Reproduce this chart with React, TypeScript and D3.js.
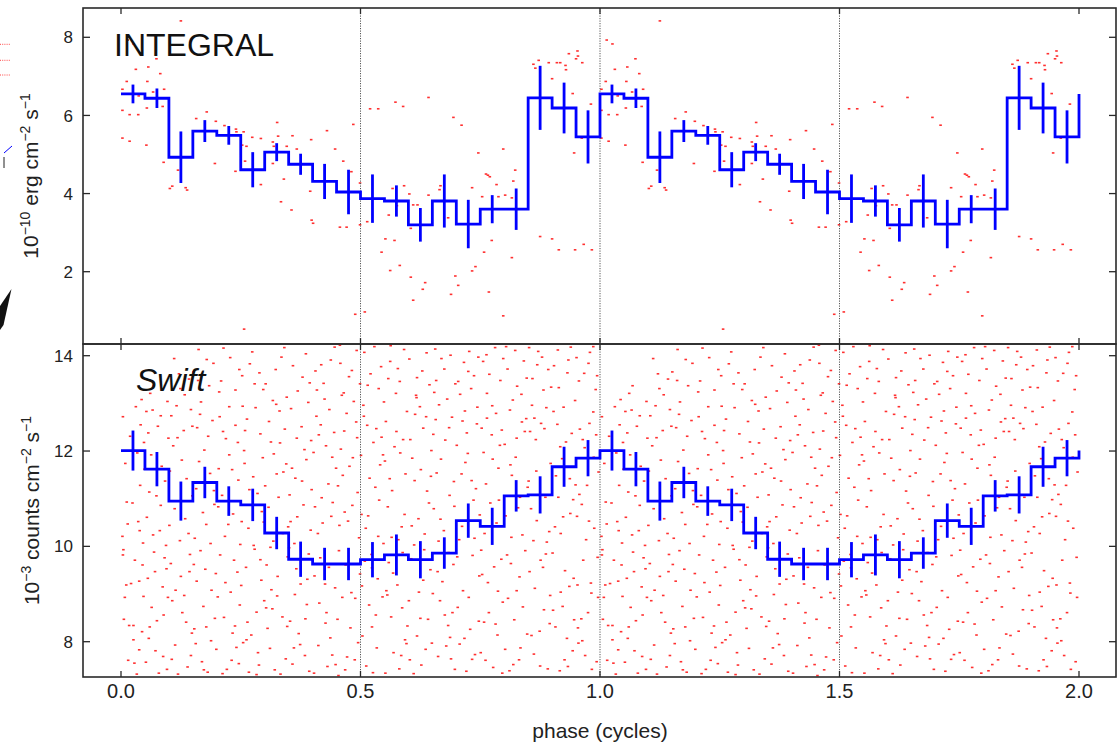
import React from "react";
import * as d3 from "d3";

// Folded light curves: 20 phase bins per cycle, plotted over two cycles.
const cycles = [0, 1];
const binStart = [0, 0.05, 0.1, 0.15, 0.2, 0.25, 0.3, 0.35, 0.4, 0.45, 0.5, 0.55, 0.6, 0.65, 0.7, 0.75, 0.8, 0.85, 0.9, 0.95];
const binWidth = 0.05;

// INTEGRAL flux, 1e-10 erg cm^-2 s^-1
const integralFlux = [6.55, 6.44, 4.93, 5.6, 5.49, 4.61, 5.06, 4.75, 4.31, 4.04, 3.87, 3.81, 3.2, 3.81, 3.22, 3.6, 3.6, 6.45, 6.19, 5.45];
const integralErr = [0.24, 0.25, 0.66, 0.28, 0.24, 0.45, 0.23, 0.27, 0.45, 0.57, 0.62, 0.4, 0.43, 0.68, 0.62, 0.36, 0.53, 0.82, 0.65, 0.68];

// Swift count rate, 1e-3 counts cm^-2 s^-1
const swiftRate = [12.01, 11.62, 10.95, 11.34, 10.95, 10.87, 10.28, 9.73, 9.63, 9.63, 9.72, 9.82, 9.72, 9.86, 10.54, 10.42, 11.06, 11.08, 11.67, 11.85];
const swiftErr = [0.42, 0.36, 0.41, 0.33, 0.31, 0.34, 0.34, 0.37, 0.34, 0.34, 0.37, 0.43, 0.39, 0.33, 0.36, 0.39, 0.33, 0.39, 0.42, 0.38];

// Individual folded measurements (phase within one cycle, value)
const integralPoints: [number, number][] = [
  [0.125, 8.42], [0.014, 7.93], [0.026, 7.83], [0.074, 7.45], [0.031, 7.18], [0.057, 7.24], [0.082, 7.07],
  [0.012, 6.87], [0.055, 6.87], [0.003, 6.67], [0.09, 6.67], [0.067, 6.6], [0.037, 6.5], [0.003, 6.13],
  [0.054, 6.19], [0.087, 6.23], [0.018, 6.02], [0.036, 6.02], [0.003, 5.42], [0.018, 5.34], [0.053, 5.24],
  [0.089, 4.8], [0.102, 4.13], [0.107, 4.19], [0.135, 4.15], [0.138, 4.09], [0.119, 4.6],
  [0.157, 5.92], [0.179, 6.09], [0.198, 5.85], [0.216, 5.74], [0.24, 5.65], [0.241, 5.58], [0.256, 5.58],
  [0.196, 4.77], [0.239, 4.57], [0.253, 5.24], [0.262, 5.21], [0.259, 4.83], [0.274, 5.44], [0.292, 5.41],
  [0.257, 0.53], [0.292, 4.23], [0.326, 5.82], [0.328, 5.47], [0.317, 5.32], [0.319, 5.21], [0.317, 4.77],
  [0.346, 5.21], [0.358, 5.48], [0.367, 5.14], [0.34, 4.37], [0.334, 3.79], [0.356, 3.58], [0.397, 5.38],
  [0.43, 5.61], [0.447, 5.14], [0.464, 4.83], [0.395, 4.06], [0.398, 3.32], [0.401, 3.24], [0.457, 3.14],
  [0.471, 3.14], [0.485, 5.77], [0.481, 4.56], [0.489, 0.91], [0.509, 0.97], [0.499, 4.27], [0.499, 3.2],
  [0.514, 3.28], [0.52, 6.17], [0.537, 6.17],
  [0.573, 6.34], [0.589, 6.23], [0.642, 6.46], [0.694, 5.95], [0.711, 5.75], [0.746, 5.04], [0.798, 5.14],
  [0.762, 4.5], [0.766, 4.47], [0.77, 4.43], [0.784, 4.23], [0.823, 4.6], [0.819, 4.32], [0.733, 4.15],
  [0.754, 3.92], [0.788, 3.92], [0.802, 3.96], [0.816, 3.89], [0.591, 4.2], [0.567, 4.13], [0.602, 3.99],
  [0.667, 4.2], [0.665, 4.1], [0.642, 3.96], [0.61, 3.71], [0.619, 3.71], [0.576, 3.69], [0.683, 3.38],
  [0.559, 3.45], [0.605, 3.11], [0.552, 2.84], [0.571, 2.8], [0.544, 2.5], [0.582, 2.16], [0.562, 2.03],
  [0.605, 1.86], [0.635, 1.72], [0.63, 1.55], [0.61, 1.27], [0.698, 1.89], [0.704, 1.65], [0.689, 1.42],
  [0.74, 2.13], [0.733, 2.02], [0.758, 2.5], [0.774, 2.8], [0.768, 1.48], [0.816, 2.36], [0.798, 0.87],
  [0.875, 2.9], [0.9, 2.84], [0.914, 2.56], [0.948, 2.56], [0.966, 2.7], [0.983, 2.56], [0.861, 7.31],
  [0.872, 7.41], [0.865, 7.21], [0.893, 7.35], [0.91, 7.35], [0.917, 7.35], [0.928, 7.28], [0.929, 7.17],
  [0.935, 7.58], [0.953, 7.65], [0.954, 7.52], [0.95, 7.45], [0.963, 7.35], [0.9, 6.94], [0.943, 6.56],
  [0.981, 6.29], [0.962, 5.42], [0.946, 5.04],
];

const swiftPoints: [number, number][] = [
  [0.004, 12.72], [0.019, 12.31], [0.031, 12.93], [0.043, 13.08], [0.041, 12.55], [0.012, 10.93], [0.024, 10.91],
  [0.003, 10.21], [0.005, 9.93], [0.004, 9.82], [0.036, 10.52], [0.039, 10.33], [0.04, 11.28], [0.021, 9.22],
  [0.011, 9.19], [0.038, 9.27], [0.006, 8.47], [0.017, 8.34], [0.026, 8.34], [0.026, 8.04], [0.038, 7.83],
  [0.028, 7.55], [0.047, 8.95], [0.045, 9.61], [0.049, 11.62], [0.033, 7.32], [0.009, 11.74], [0.046, 10.07],
  [0.015, 7.61], [0.034, 11.96], [0.048, 12.18],
  [0.014, 10.47], [0.029, 9.71], [0.044, 8.21], [0.008, 8.93],
  [0.061, 13.21], [0.083, 12.74], [0.058, 8.07], [0.092, 11.37], [0.069, 9.88], [0.077, 12.52], [0.054, 10.61],
  [0.096, 7.42], [0.087, 9.15], [0.063, 11.92], [0.072, 7.81], [0.081, 10.33], [0.099, 12.27], [0.056, 9.33],
  [0.089, 8.56], [0.066, 12.86], [0.094, 10.02], [0.075, 8.44], [0.059, 11.14], [0.085, 11.68], [0.071, 9.47],
  [0.097, 13.04], [0.052, 7.57], [0.079, 7.34], [0.091, 9.76], [0.064, 8.72], [0.083, 10.86], [0.068, 13.37],
  [0.098, 8.93], [0.057, 12.38],
  [0.074, 11.06], [0.053, 12.83], [0.088, 7.69], [0.067, 10.24], [0.095, 9.53], [0.06, 8.31],
  [0.121, 13.62], [0.104, 9.64], [0.137, 11.42], [0.113, 7.93], [0.146, 12.87], [0.109, 12.11], [0.128, 8.61],
  [0.141, 10.27], [0.117, 10.95], [0.133, 13.18], [0.102, 11.58], [0.148, 8.18], [0.125, 9.37], [0.139, 7.47],
  [0.111, 13.94], [0.144, 9.83], [0.107, 8.86], [0.131, 12.43], [0.119, 7.32], [0.149, 11.06], [0.134, 10.58],
  [0.105, 12.74], [0.127, 11.81], [0.142, 13.51], [0.114, 9.08], [0.136, 8.41], [0.123, 10.12], [0.146, 7.71],
  [0.101, 10.44], [0.116, 12.95],
  [0.118, 12.28], [0.143, 9.47], [0.106, 7.63], [0.132, 8.97], [0.124, 13.31], [0.149, 12.52], [0.112, 10.79],
  [0.162, 14.13], [0.178, 10.46], [0.153, 8.27], [0.191, 12.64], [0.169, 7.58], [0.184, 13.37], [0.157, 11.21],
  [0.198, 9.43], [0.174, 12.02], [0.188, 8.02], [0.151, 13.66], [0.166, 9.91], [0.195, 10.88], [0.181, 7.36],
  [0.159, 12.49], [0.172, 8.74], [0.193, 13.84], [0.154, 10.17], [0.186, 11.53], [0.167, 13.03], [0.199, 7.84],
  [0.176, 9.52], [0.163, 11.78], [0.189, 9.08], [0.156, 7.96], [0.182, 12.31], [0.171, 10.71], [0.196, 8.49],
  [0.158, 9.27], [0.179, 13.92],
  [0.165, 12.77], [0.187, 10.06], [0.152, 9.62], [0.178, 8.31], [0.194, 11.17], [0.161, 13.48], [0.173, 7.41],
  [0.209, 13.47], [0.236, 9.71], [0.221, 7.42], [0.244, 12.18], [0.203, 10.83], [0.228, 13.96], [0.215, 8.51],
  [0.249, 10.04], [0.232, 11.61], [0.206, 12.72], [0.241, 7.88], [0.218, 9.24], [0.226, 12.93], [0.247, 13.71],
  [0.211, 11.07], [0.238, 8.33], [0.202, 8.94], [0.224, 10.46], [0.245, 11.39], [0.214, 14.16], [0.231, 7.61],
  [0.207, 9.82], [0.239, 12.54], [0.219, 12.26], [0.248, 8.77], [0.226, 11.92], [0.205, 13.24], [0.234, 10.68],
  [0.212, 7.33], [0.243, 9.46],
  [0.217, 10.21], [0.239, 13.28], [0.204, 11.63], [0.229, 9.04], [0.246, 7.54], [0.213, 12.41], [0.233, 8.18],
  [0.257, 12.01], [0.283, 8.62], [0.269, 13.83], [0.294, 10.73], [0.251, 9.18], [0.276, 11.46], [0.288, 7.51],
  [0.263, 12.67], [0.297, 13.29], [0.255, 7.98], [0.279, 9.94], [0.266, 10.38], [0.291, 12.36], [0.272, 8.14],
  [0.253, 13.58], [0.285, 11.11], [0.261, 9.56], [0.299, 8.86], [0.274, 14.08], [0.258, 11.74], [0.293, 9.29],
  [0.267, 7.36], [0.281, 12.91], [0.252, 10.52], [0.289, 13.64], [0.264, 8.41], [0.296, 11.86], [0.277, 10.02],
  [0.259, 12.43], [0.286, 7.77],
  [0.268, 11.19], [0.291, 9.72], [0.254, 12.94], [0.279, 13.41], [0.262, 8.04], [0.298, 10.51], [0.283, 7.31],
  [0.306, 8.28], [0.331, 12.84], [0.318, 10.11], [0.344, 7.64], [0.302, 13.41], [0.327, 9.37], [0.339, 11.56],
  [0.313, 12.19], [0.348, 9.78], [0.321, 7.41], [0.335, 13.97], [0.308, 10.82], [0.342, 12.46], [0.316, 8.69],
  [0.329, 11.03], [0.304, 9.61], [0.346, 13.13], [0.323, 13.71], [0.311, 7.86], [0.337, 8.52], [0.319, 11.94],
  [0.349, 10.41], [0.326, 8.96], [0.309, 12.62], [0.341, 14.17], [0.314, 9.09], [0.333, 7.32], [0.301, 11.27],
  [0.345, 11.73], [0.324, 12.98],
  [0.317, 13.06], [0.338, 10.27], [0.303, 8.71], [0.325, 11.52], [0.347, 8.32], [0.312, 9.98], [0.332, 12.17],
  [0.357, 11.64], [0.384, 7.71], [0.369, 13.26], [0.392, 9.84], [0.353, 8.43], [0.377, 12.51], [0.398, 11.19],
  [0.362, 10.06], [0.386, 14.04], [0.371, 8.17], [0.355, 12.89], [0.393, 7.38], [0.366, 9.53], [0.381, 10.87],
  [0.359, 13.79], [0.397, 12.22], [0.374, 7.94], [0.351, 9.97], [0.388, 8.78], [0.364, 11.43], [0.379, 13.55],
  [0.396, 10.34], [0.358, 7.53], [0.383, 12.03], [0.368, 10.62], [0.391, 13.02], [0.352, 11.08], [0.375, 9.21],
  [0.387, 11.82], [0.363, 8.99],
  [0.367, 12.27], [0.389, 9.31], [0.354, 10.52], [0.378, 11.37], [0.394, 13.43], [0.361, 7.87], [0.385, 8.48],
  [0.412, 7.92], [0.433, 11.31], [0.406, 13.68], [0.447, 9.13], [0.421, 10.49], [0.438, 13.91], [0.402, 11.97],
  [0.427, 8.39], [0.445, 12.39], [0.416, 9.76], [0.431, 7.48], [0.408, 12.73], [0.442, 10.92], [0.423, 13.42],
  [0.414, 8.81], [0.449, 11.64], [0.428, 12.11], [0.404, 9.38], [0.437, 8.08], [0.419, 11.02], [0.446, 14.18],
  [0.411, 10.27], [0.434, 9.56], [0.403, 7.34], [0.425, 13.09], [0.441, 7.72], [0.417, 12.55], [0.439, 10.63],
  [0.409, 13.28], [0.429, 8.61],
  [0.418, 13.81], [0.441, 11.87], [0.405, 10.83], [0.426, 9.21], [0.448, 7.52], [0.413, 12.34], [0.435, 12.87],
  [0.458, 13.84], [0.481, 9.03], [0.467, 10.72], [0.493, 12.28], [0.452, 8.47], [0.476, 13.56], [0.488, 7.62],
  [0.463, 11.49], [0.497, 10.18], [0.471, 12.79], [0.455, 9.91], [0.484, 11.86], [0.468, 7.41], [0.492, 14.11],
  [0.459, 12.04], [0.479, 8.29], [0.465, 13.22], [0.499, 9.42], [0.474, 10.53], [0.453, 11.27], [0.486, 13.04],
  [0.462, 8.93], [0.495, 7.98], [0.477, 11.68], [0.457, 14.22], [0.483, 10.86], [0.469, 9.61], [0.491, 12.61],
  [0.454, 7.29], [0.499, 13.41],
  [0.466, 12.42], [0.489, 8.91], [0.456, 10.44], [0.472, 7.68], [0.494, 11.13], [0.461, 13.17], [0.482, 13.69],
  [0.506, 12.96], [0.532, 8.56], [0.519, 11.43], [0.543, 13.77], [0.503, 9.17], [0.527, 12.18], [0.548, 10.06],
  [0.512, 7.49], [0.538, 13.31], [0.523, 9.83], [0.508, 14.07], [0.541, 11.71], [0.516, 10.64], [0.534, 7.87],
  [0.501, 11.91], [0.529, 14.19], [0.546, 8.94], [0.514, 12.54], [0.536, 9.32], [0.521, 13.62], [0.504, 8.12],
  [0.544, 12.29], [0.526, 7.35], [0.511, 10.38], [0.539, 10.97], [0.518, 8.77], [0.549, 13.03], [0.531, 11.24],
  [0.507, 12.73], [0.524, 9.55],
  [0.515, 13.38], [0.537, 10.21], [0.502, 10.67], [0.524, 8.31], [0.547, 11.92], [0.509, 9.69], [0.533, 12.47],
  [0.557, 10.83], [0.582, 13.46], [0.569, 7.77], [0.594, 11.52], [0.553, 12.62], [0.577, 9.19], [0.598, 8.33],
  [0.562, 13.88], [0.586, 10.41], [0.571, 12.09], [0.556, 8.98], [0.591, 14.13], [0.566, 11.17], [0.581, 7.43],
  [0.559, 9.66], [0.597, 12.83], [0.574, 13.21], [0.551, 11.79], [0.588, 9.87], [0.564, 8.52], [0.579, 10.14],
  [0.596, 7.96], [0.558, 13.52], [0.583, 11.96], [0.568, 9.44], [0.592, 10.67], [0.552, 7.34], [0.575, 12.41],
  [0.587, 8.71], [0.563, 14.21],
  [0.565, 10.19], [0.589, 12.24], [0.554, 9.07], [0.578, 13.73], [0.593, 8.04], [0.561, 11.42], [0.585, 7.71],
  [0.606, 9.74], [0.631, 12.48], [0.618, 8.12], [0.643, 10.91], [0.602, 13.93], [0.627, 7.51], [0.648, 12.01],
  [0.613, 11.38], [0.638, 14.06], [0.622, 9.04], [0.608, 11.85], [0.641, 8.47], [0.616, 13.17], [0.634, 10.26],
  [0.601, 8.86], [0.629, 13.68], [0.646, 9.51], [0.614, 12.77], [0.636, 7.84], [0.621, 10.58], [0.604, 12.24],
  [0.644, 13.39], [0.626, 11.61], [0.611, 7.33], [0.639, 11.16], [0.618, 13.54], [0.649, 7.97], [0.631, 9.29],
  [0.607, 10.43], [0.624, 12.93],
  [0.612, 10.03], [0.637, 12.72], [0.603, 7.62], [0.625, 8.49], [0.647, 11.47], [0.617, 13.12], [0.633, 9.93],
  [0.657, 12.66], [0.683, 8.34], [0.669, 13.94], [0.694, 9.62], [0.653, 10.79], [0.677, 12.23], [0.698, 13.41],
  [0.662, 7.69], [0.686, 11.07], [0.671, 9.26], [0.656, 14.14], [0.691, 12.71], [0.666, 8.86], [0.681, 13.09],
  [0.659, 11.54], [0.697, 7.42], [0.674, 10.33], [0.651, 9.01], [0.688, 14.01], [0.664, 12.97], [0.679, 7.91],
  [0.696, 10.84], [0.658, 13.48], [0.684, 9.87], [0.668, 11.83], [0.692, 8.61], [0.652, 12.35], [0.675, 13.72],
  [0.687, 8.09], [0.663, 10.11],
  [0.661, 9.47], [0.685, 12.49], [0.654, 13.23], [0.676, 8.56], [0.695, 11.36], [0.667, 10.57], [0.689, 7.64],
  [0.708, 13.19], [0.733, 7.63], [0.719, 11.76], [0.744, 12.92], [0.703, 8.72], [0.727, 14.09], [0.748, 9.38],
  [0.712, 10.42], [0.737, 13.58], [0.722, 12.38], [0.707, 7.95], [0.741, 11.21], [0.716, 13.86], [0.734, 9.81],
  [0.701, 12.12], [0.729, 8.26], [0.746, 13.97], [0.714, 9.07], [0.736, 10.97], [0.721, 7.38], [0.704, 13.46],
  [0.743, 12.57], [0.726, 8.93], [0.711, 11.52], [0.739, 7.73], [0.718, 12.84], [0.749, 10.66], [0.731, 13.31],
  [0.706, 10.14], [0.724, 11.95],
  [0.713, 12.63], [0.738, 10.17], [0.702, 9.78], [0.725, 13.67], [0.747, 8.43], [0.717, 8.07], [0.732, 11.38],
  [0.758, 8.41], [0.783, 12.79], [0.769, 13.61], [0.794, 9.73], [0.753, 12.48], [0.777, 7.46], [0.798, 13.94],
  [0.762, 11.31], [0.786, 8.14], [0.771, 10.91], [0.756, 13.88], [0.791, 12.12], [0.766, 9.24], [0.781, 14.17],
  [0.759, 10.27], [0.797, 8.83], [0.774, 12.34], [0.751, 7.77], [0.788, 11.64], [0.764, 13.21], [0.779, 9.57],
  [0.796, 7.34], [0.757, 11.97], [0.784, 10.49], [0.768, 8.61], [0.792, 13.48], [0.752, 9.92], [0.775, 12.95],
  [0.787, 9.06], [0.763, 14.02],
  [0.764, 12.69], [0.789, 10.97], [0.754, 9.41], [0.776, 11.83], [0.795, 12.44], [0.761, 7.61], [0.782, 8.37],
  [0.807, 13.72], [0.832, 9.36], [0.819, 7.52], [0.843, 12.41], [0.803, 10.64], [0.827, 13.36], [0.848, 8.16],
  [0.812, 12.86], [0.838, 10.24], [0.823, 14.11], [0.808, 8.91], [0.841, 13.89], [0.816, 11.49], [0.834, 7.87],
  [0.801, 12.14], [0.829, 10.81], [0.846, 12.68], [0.814, 9.64], [0.836, 13.19], [0.821, 8.46], [0.804, 14.19],
  [0.844, 9.91], [0.826, 12.27], [0.811, 7.39], [0.839, 8.73], [0.818, 13.07], [0.849, 11.24], [0.831, 7.62],
  [0.806, 9.82], [0.824, 11.87],
  [0.815, 10.19], [0.837, 12.61], [0.802, 7.84], [0.826, 9.07], [0.847, 13.53], [0.813, 11.71], [0.833, 11.03],
  [0.858, 12.96], [0.883, 8.67], [0.869, 13.81], [0.894, 10.31], [0.853, 9.47], [0.877, 12.58], [0.898, 13.34],
  [0.862, 7.74], [0.886, 11.03], [0.871, 14.09], [0.856, 10.79], [0.891, 7.43], [0.866, 12.24], [0.881, 9.56],
  [0.859, 13.52], [0.897, 11.74], [0.874, 8.22], [0.851, 11.37], [0.888, 12.91], [0.864, 9.12], [0.879, 13.97],
  [0.896, 8.97], [0.857, 8.13], [0.884, 12.47], [0.868, 10.54], [0.892, 13.71], [0.852, 14.17], [0.875, 7.49],
  [0.887, 9.84], [0.863, 12.69],
  [0.867, 11.58], [0.889, 10.09], [0.854, 12.41], [0.876, 9.71], [0.895, 8.38], [0.861, 10.12], [0.882, 13.28],
  [0.907, 8.31], [0.932, 13.64], [0.918, 10.27], [0.943, 7.81], [0.903, 12.83], [0.927, 9.49], [0.948, 13.06],
  [0.912, 14.12], [0.938, 10.69], [0.922, 8.74], [0.908, 11.48], [0.941, 12.37], [0.916, 7.39], [0.934, 13.91],
  [0.901, 9.86], [0.929, 12.19], [0.946, 8.46], [0.914, 13.33], [0.936, 9.16], [0.921, 11.84], [0.904, 13.79],
  [0.944, 10.98], [0.926, 7.62], [0.911, 12.56], [0.939, 14.18], [0.918, 9.04], [0.949, 11.29], [0.931, 8.07],
  [0.906, 10.41], [0.924, 12.92],
  [0.917, 12.09], [0.937, 11.42], [0.902, 8.66], [0.923, 10.62], [0.945, 9.33], [0.913, 11.03], [0.933, 7.48],
  [0.956, 13.47], [0.981, 9.23], [0.968, 12.07], [0.993, 7.58], [0.952, 10.63], [0.976, 13.84], [0.997, 11.56],
  [0.961, 8.48], [0.986, 12.82], [0.971, 10.14], [0.955, 7.97], [0.991, 13.29], [0.965, 9.71], [0.979, 14.07],
  [0.958, 12.46], [0.996, 8.93], [0.973, 11.28], [0.951, 13.96], [0.988, 10.38], [0.963, 8.02], [0.978, 12.58],
  [0.995, 9.77], [0.957, 11.09], [0.983, 7.42], [0.967, 13.63], [0.992, 12.34], [0.953, 9.19], [0.975, 8.61],
  [0.986, 14.19], [0.962, 10.88],
  [0.964, 12.24], [0.987, 11.87], [0.954, 8.29], [0.977, 10.53], [0.994, 13.58], [0.969, 7.71], [0.982, 9.02],
];

const phaseTicks = [0, 0.5, 1.0, 1.5, 2.0];
const phaseTickLabels = ["0.0", "0.5", "1.0", "1.5", "2.0"];
const cycleMarks = [0.5, 1.0, 1.5];
const integralTicks = [2, 4, 6, 8];
const swiftTicks = [8, 10, 12, 14];

const W = 1120;
const H = 744;
const LEFT = 83;
const RIGHT = 1116;
const FONT = "'Liberation Sans', Arial, Helvetica, sans-serif";
const AXIS = "#2a2a2a";
const BLUE = "#0000ff";
const RED = "#ff1a1a";

const x = d3.scaleLinear().domain([0, 2]).range([121, 1079]);

type Panel = {
  key: string;
  top: number;
  bottom: number;
  y: d3.ScaleLinear<number, number>;
  ticks: number[];
  values: number[];
  errors: number[];
  points: [number, number][];
};

const panels: Panel[] = [
  {
    key: "integral",
    top: 8,
    bottom: 344,
    y: d3.scaleLinear().domain([2, 8]).range([271.7, 37.3]),
    ticks: integralTicks,
    values: integralFlux,
    errors: integralErr,
    points: integralPoints,
  },
  {
    key: "swift",
    top: 344,
    bottom: 677,
    y: d3.scaleLinear().domain([8, 14]).range([641.7, 355.7]),
    ticks: swiftTicks,
    values: swiftRate,
    errors: swiftErr,
    points: swiftPoints,
  },
];

function PanelView({ p }: { p: Panel }) {
  const stepPoints: [number, number][] = cycles.flatMap((c) =>
    binStart.map((b, i) => [c + b, p.values[i]] as [number, number])
  );
  stepPoints.push([2, p.values[0]]);
  const step = d3
    .line<[number, number]>()
    .x((d) => x(d[0]))
    .y((d) => p.y(d[1]))
    .curve(d3.curveStepAfter)(stepPoints) as string;

  const bars = cycles.flatMap((c) =>
    binStart.map((b, i) => ({
      key: `${c}-${i}`,
      cx: x(c + b + binWidth / 2),
      y1: p.y(p.values[i] - p.errors[i]),
      y2: p.y(p.values[i] + p.errors[i]),
    }))
  );

  const dots = cycles.flatMap((c) =>
    p.points.map((d, i) => ({ key: `${c}-${i}`, cx: x(c + d[0]), cy: p.y(d[1]) }))
  );

  const clipId = `clip-${p.key}`;
  return (
    <g>
      <defs>
        <clipPath id={clipId}>
          <rect x={LEFT} y={p.top} width={RIGHT - LEFT} height={p.bottom - p.top + 3} />
        </clipPath>
      </defs>
      <g clipPath={`url(#${clipId})`}>
        {dots.map((d) => (
          <rect key={d.key} x={d.cx - 1.3} y={d.cy - 0.8} width={2.6} height={1.6} fill={RED} opacity={0.9} />
        ))}
        {cycleMarks.map((m) => (
          <line
            key={m}
            x1={x(m)}
            x2={x(m)}
            y1={p.top}
            y2={p.bottom}
            stroke="#555"
            strokeWidth={1}
            strokeDasharray="1.2 1.3"
          />
        ))}
        <path d={step} fill="none" stroke={BLUE} strokeWidth={2.8} strokeLinejoin="miter" />
        {bars.map((b) => (
          <line key={b.key} x1={b.cx} x2={b.cx} y1={b.y1} y2={b.y2} stroke={BLUE} strokeWidth={2.8} />
        ))}
      </g>
      {/* inward ticks on all four sides */}
      {phaseTicks.map((t) => (
        <g key={t} stroke={AXIS} strokeWidth={1.3}>
          <line x1={x(t)} x2={x(t)} y1={p.top} y2={p.top + 6} />
          <line x1={x(t)} x2={x(t)} y1={p.bottom} y2={p.bottom - 6} />
        </g>
      ))}
      {p.ticks.map((t) => (
        <g key={t}>
          <line x1={LEFT} x2={LEFT + 7} y1={p.y(t)} y2={p.y(t)} stroke={AXIS} strokeWidth={1.3} />
          <line x1={RIGHT} x2={RIGHT - 7} y1={p.y(t)} y2={p.y(t)} stroke={AXIS} strokeWidth={1.3} />
          <text
            x={73}
            y={p.y(t)}
            dy="0.36em"
            textAnchor="end"
            fontFamily={FONT}
            fontSize={17}
            fill="#222"
          >
            {t}
          </text>
        </g>
      ))}
      <rect
        x={LEFT}
        y={p.top}
        width={RIGHT - LEFT}
        height={p.bottom - p.top}
        fill="none"
        stroke={AXIS}
        strokeWidth={1.6}
      />
    </g>
  );
}

function Sup({ children }: { children: string }) {
  return (
    <tspan fontSize={14} dy={-8}>
      {children}
    </tspan>
  );
}

export default function App() {
  const [top, bottom] = panels;
  return (
    <div style={{ position: "absolute", left: 0, top: 0, background: "#fff" }}>
      <svg width={W} height={H} viewBox={`0 0 ${W} ${H}`} style={{ display: "block" }}>
        <rect width={W} height={H} fill="#fff" />

        {/* edge of the neighbouring figure */}
        <g>
          {[44.3, 60.3, 75].map((yy) => (
            <line key={yy} x1={0} x2={11} y1={yy} y2={yy} stroke={RED} strokeWidth={1} strokeDasharray="1 1.2" opacity={0.8} />
          ))}
          <line x1={4} x2={4} y1={157} y2={168} stroke="#222" strokeWidth={1} />
          <line x1={4} x2={12} y1={153} y2={146} stroke={BLUE} strokeWidth={1} />
          <polygon points="11.5,289 0,306 0,330 3.5,325" fill="#111" />
        </g>

        <PanelView p={top} />
        <PanelView p={bottom} />

        {/* panel labels */}
        <text x={114} y={56} fontFamily={FONT} fontSize={32} fill="#111">
          INTEGRAL
        </text>
        <text x={136} y={391} fontFamily={FONT} fontSize={32} fontStyle="italic" fill="#111">
          Swift
        </text>

        {/* x axis */}
        {phaseTicks.map((t, i) => (
          <text
            key={t}
            x={x(t)}
            y={698}
            textAnchor="middle"
            fontFamily={FONT}
            fontSize={20}
            fill="#222"
          >
            {phaseTickLabels[i]}
          </text>
        ))}
        <text x={600} y={738} textAnchor="middle" fontFamily={FONT} fontSize={21} fill="#222">
          phase (cycles)
        </text>

        {/* y axis titles */}
        <text
          transform={`translate(37.5, ${(top.top + top.bottom) / 2}) rotate(-90)`}
          textAnchor="middle"
          fontFamily={FONT}
          fontSize={21}
          fill="#222"
        >
          10<Sup>−10</Sup>
          <tspan dy={8}> erg cm</tspan>
          <Sup>−2</Sup>
          <tspan dy={8}> s</tspan>
          <Sup>−1</Sup>
        </text>
        <text
          transform={`translate(38.5, ${(bottom.top + bottom.bottom) / 2}) rotate(-90)`}
          textAnchor="middle"
          fontFamily={FONT}
          fontSize={21}
          fill="#222"
        >
          10<Sup>−3</Sup>
          <tspan dy={8}> counts cm</tspan>
          <Sup>−2</Sup>
          <tspan dy={8}> s</tspan>
          <Sup>−1</Sup>
        </text>
      </svg>
    </div>
  );
}
